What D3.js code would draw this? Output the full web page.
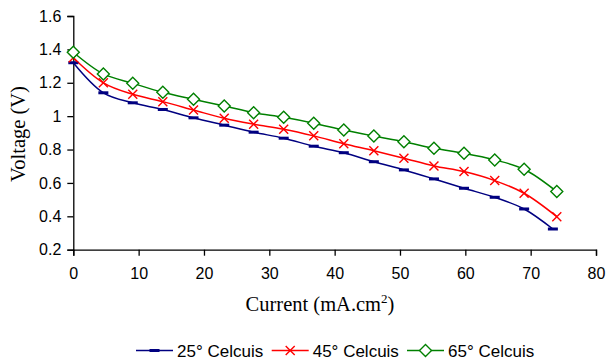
<!DOCTYPE html>
<html>
<head>
<meta charset="utf-8">
<script src="https://cdn.jsdelivr.net/npm/d3@7"></script>
<style>
  body { margin: 0; background: white; }
</style>
</head>
<body>
<div id="container"></div>
<script>
const current = [0, 4.6, 9.1, 13.7, 18.4, 23.1, 27.6, 32.2, 36.8, 41.4, 46.0, 50.6, 55.2, 59.8, 64.5, 69.0]
const current25 = current.concat([73.4])
const currentHot = current.concat([74.0])

const volt25 = [1.32, 1.14, 1.08, 1.04, 0.99, 0.946, 0.904, 0.868, 0.82, 0.781, 0.727, 0.678, 0.624, 0.568, 0.514, 0.444, 0.324]
const volt45 = [1.35, 1.2, 1.131, 1.087, 1.037, 0.987, 0.952, 0.922, 0.882, 0.835, 0.793, 0.748, 0.702, 0.668, 0.614, 0.538, 0.398]
const volt65 = [1.383, 1.253, 1.197, 1.143, 1.101, 1.061, 1.021, 0.993, 0.958, 0.917, 0.881, 0.847, 0.808, 0.778, 0.738, 0.682, 0.548]

const seriesNames = ['25° Celcuis', '45° Celcuis', '65° Celcuis']
const seriesColors = ['#000080', '#ff0000', '#008000']
const xTicks = [0, 10, 20, 30, 40, 50, 60, 70, 80]
const yTicks = [0.2, 0.4, 0.6, 0.8, 1, 1.2, 1.4, 1.6]

const config = {
    width: 607,
    height: 362,
    left: 73.3,
    right: 596,
    top: 16,
    bottom: 249.7,
}

const series = [
    {name: seriesNames[0], color: seriesColors[0], marker: 'dash', points: current25.map((c, i) => [c, volt25[i]])},
    {name: seriesNames[1], color: seriesColors[1], marker: 'cross', points: currentHot.map((c, i) => [c, volt45[i]])},
    {name: seriesNames[2], color: seriesColors[2], marker: 'diamond', points: currentHot.map((c, i) => [c, volt65[i]])},
]

const svg = d3.select('#container')
    .append('svg')
    .attr('width', config.width)
    .attr('height', config.height)
    .style('display', 'block')

const xScale = d3.scaleLinear()
    .domain([0, 80])
    .range([config.left, config.right])

const yScale = d3.scaleLinear()
    .domain([0.2, 1.6])
    .range([config.bottom, config.top])

const xAxis = svg.append('g')
    .attr('transform', `translate(0,${config.bottom})`)
    .call(d3.axisBottom(xScale)
        .tickValues(xTicks)
        .tickSizeOuter(0)
        .tickSize(6)
        .tickPadding(12)
        .tickFormat(d3.format('d')))

const yAxis = svg.append('g')
    .attr('transform', `translate(${config.left},0)`)
    .call(d3.axisLeft(yScale)
        .tickValues(yTicks)
        .tickSizeOuter(0)
        .tickSize(6)
        .tickPadding(6)
        .tickFormat(d => d3.format('~g')(d)))

svg.selectAll('.domain, .tick line')
    .attr('stroke', 'black')
    .attr('stroke-width', 1.3)

svg.selectAll('.tick text')
    .style('font-family', '"Liberation Sans", Arial, sans-serif')
    .style('font-size', '16px')
    .attr('fill', 'black')

svg.append('text')
    .attr('text-anchor', 'middle')
    .attr('x', 320)
    .attr('y', 311)
    .style('font-family', '"Liberation Serif", "Times New Roman", serif')
    .style('font-size', '20.5px')
    .text('Current (mA.cm')
    .append('tspan')
    .attr('dy', -8)
    .style('font-size', '13px')
    .text('2')
    .select(function () { return this.parentNode })
    .append('tspan')
    .attr('dy', 8)
    .text(')')

svg.append('text')
    .attr('text-anchor', 'middle')
    .attr('transform', 'translate(25,134) rotate(-90)')
    .style('font-family', '"Liberation Serif", "Times New Roman", serif')
    .style('font-size', '20.5px')
    .text('Voltage (V)')

const line = d3.line()
    .x(d => xScale(d[0]))
    .y(d => yScale(d[1]))
    .curve(d3.curveCatmullRom.alpha(0.5))

const drawMarker = (g, type, color) => {
    if (type === 'dash') {
        g.append('rect').attr('x', -5).attr('y', -1.5).attr('width', 10).attr('height', 3).attr('fill', color)
    } else if (type === 'cross') {
        g.append('path').attr('d', 'M-4.5,-4.5L4.5,4.5M-4.5,4.5L4.5,-4.5')
            .attr('stroke', color).attr('stroke-width', 1.4).attr('fill', 'none')
    } else {
        g.append('path').attr('d', 'M0,-6L6,0L0,6L-6,0Z')
            .attr('stroke', color).attr('stroke-width', 1.4).attr('fill', 'white')
    }
}

series.forEach(s => {
    svg.append('path')
        .datum(s.points)
        .attr('d', line)
        .attr('fill', 'none')
        .attr('stroke', s.color)
        .attr('stroke-width', 1.5)
})

series.forEach(s => {
    svg.append('g')
        .selectAll('g')
        .data(s.points)
        .join('g')
        .attr('transform', d => `translate(${xScale(d[0])},${yScale(d[1])})`)
        .each(function () { drawMarker(d3.select(this), s.marker, s.color) })
})

// legend
const legendX = [136, 271.7, 407]
const legendY = 350.5
series.forEach((s, i) => {
    const g = svg.append('g').attr('transform', `translate(${legendX[i]},${legendY})`)
    g.append('line').attr('x1', 0).attr('x2', 37).attr('y1', 0).attr('y2', 0)
        .attr('stroke', s.color).attr('stroke-width', 1.5)
    const m = g.append('g').attr('transform', 'translate(18.5,0)')
    drawMarker(m, s.marker, s.color)
    g.append('text')
        .attr('x', 41)
        .attr('y', 6)
        .style('font-family', '"Liberation Sans", Arial, sans-serif')
        .style('font-size', '17px')
        .text(s.name)
})
</script>
</body>
</html>
